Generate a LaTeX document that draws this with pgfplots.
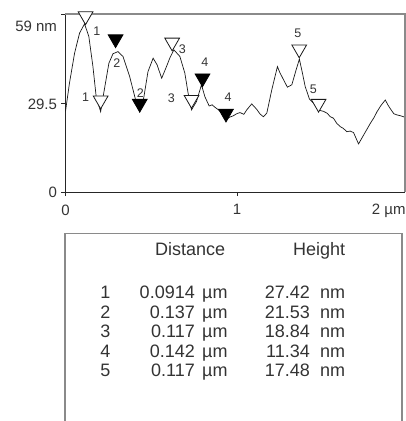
\documentclass[border=0pt]{standalone}
\usepackage{fontspec}
\setmainfont{Liberation Sans}
\usepackage{pgfplots}
\pgfplotsset{compat=1.18}
\definecolor{txt}{HTML}{333333}
\definecolor{frame}{HTML}{8A8A8A}
\begin{document}
\begin{tikzpicture}[x=1pt,y=1pt]
\path[use as bounding box] (0,0) rectangle (406,-421);
\begin{axis}[
  at={(65.5pt,-192pt)}, anchor=south west,
  scale only axis, width=339.5pt, height=178pt,
  xmin=0, xmax=1.98, ymin=0, ymax=59.6,
  axis x line*=bottom, axis y line*=left,
  axis line style={-, line width=1pt, black!85},
  xtick={0,1}, xticklabels={0,1},
  ytick={0,29.5}, yticklabels={0,29.5},
  extra y ticks={59.6}, extra y tick labels={59 nm},
  extra y tick style={yticklabel style={yshift=-12pt}},
  tick align=outside, major tick length=4pt,
  tick style={black!85, line width=0.8pt},
  ticklabel style={font=\fontsize{15}{15}\selectfont, text=txt},
  xticklabel style={yshift=-5pt},
  yticklabel style={xshift=-1pt},
  clip=false,
]
\addplot[black!90, line width=0.7pt] coordinates {
(0,27.0) (0.023,36.4) (0.053,46.5) (0.082,53.2) (0.111,56.3) (0.136,52.1)
(0.160,42.0) (0.179,31.9) (0.205,26.9) (0.228,34.8) (0.253,43.1) (0.277,46.3)
(0.306,47.0) (0.335,45.4) (0.374,38.7) (0.409,30.8) (0.433,26.9) (0.456,31.4)
(0.481,40.3) (0.511,44.8) (0.534,42.6) (0.561,38.1) (0.589,42.0) (0.608,44.8)
(0.632,47.6) (0.667,45.4) (0.696,39.8) (0.715,33.1) (0.735,27.5) (0.764,30.3)
(0.793,35.9) (0.813,31.9) (0.838,28.8) (0.855,29.2) (0.871,28.4) (0.890,27.6) (0.905,26.9)
(0.936,24.1) (0.955,25.0) (0.978,25.5) (0.998,26.2) (1.018,26.6) (1.040,26.0) (1.057,27.5)
(1.086,29.5) (1.115,27.7) (1.135,26.1) (1.154,25.2) (1.174,26.4) (1.203,34.2) (1.236,42.0)
(1.250,40.0) (1.267,38.1) (1.294,35.1) (1.320,35.9) (1.345,40.9) (1.364,44.5)
(1.380,40.3) (1.398,35.3) (1.423,31.1) (1.456,29.2) (1.485,27.3) (1.505,27.0) (1.525,26.4)
(1.545,25.2) (1.563,24.7) (1.582,23.0) (1.602,21.9) (1.620,21.3) (1.641,20.2) (1.660,20.4) (1.680,19.9)
(1.709,16.1) (1.739,19.1) (1.758,21.0) (1.778,23.0) (1.800,25.0) (1.817,26.9) (1.840,29.0) (1.865,30.8)
(1.882,29.0) (1.899,27.5) (1.915,26.2) (1.934,25.8) (1.955,25.5) (1.982,25.0)
};
% open cursor markers
\addplot[only marks, mark=triangle*, mark size=8.5pt,
  mark options={rotate=180, fill=white, draw=black!90, line width=0.8pt}] coordinates {
(0.117,58.9) (0.205,30.7) (0.622,50.1) (0.735,30.9) (1.363,47.8) (1.476,29.6)
};
% filled cursor markers
\addplot[only marks, mark=triangle*, mark size=8.5pt,
  mark options={rotate=180, fill=black, draw=black, line width=0.8pt}] coordinates {
(0.292,51.2) (0.433,29.6) (0.799,38.1) (0.936,26.3)
};
\begin{scope}[every node/.style={font=\fontsize{12.5}{12.5}\selectfont, text=txt, inner sep=0pt}]
\node at (axis cs:0.183,53.7) {1};
\node at (axis cs:0.117,31.9) {1};
\node at (axis cs:0.300,43.1) {2};
\node at (axis cs:0.437,33.1) {2};
\node at (axis cs:0.682,47.8) {3};
\node at (axis cs:0.618,31.4) {3};
\node at (axis cs:0.813,43.3) {4};
\node at (axis cs:0.949,31.7) {4};
\node at (axis cs:1.355,53.2) {5};
\node at (axis cs:1.446,34.4) {5};
\end{scope}
\draw[frame, line width=1.3pt] (rel axis cs:0,1) -- (rel axis cs:1,1) -- (rel axis cs:1,0);
\node[anchor=north west, inner sep=0pt, font=\fontsize{15}{15}\selectfont, text=txt]
  at (axis cs:1.786,0) [yshift=-12pt] {2 µm};
\end{axis}
% table box
\draw[frame, line width=1.4pt] (65,-425) -- (65,-233.5) -- (402,-233.5) -- (402,-425);
\begin{scope}[every node/.style={font=\fontsize{18}{18}\selectfont, text=txt, inner sep=0pt}]
\node[anchor=base west] at (155,-255) {Distance};
\node[anchor=base west] at (293,-255) {Height};
\foreach \i/\d/\h [count=\k from 0] in {1/0.0914/27.42, 2/0.137/21.53, 3/0.117/18.84, 4/0.142/11.34, 5/0.117/17.48} {
  \node[anchor=base east] at (110.5,-298.5-19.5*\k) {\i};
  \node[anchor=base east] at (195,-298.5-19.5*\k) {\d};
  \node[anchor=base west] at (202,-298.5-19.5*\k) {µm};
  \node[anchor=base east] at (310,-298.5-19.5*\k) {\h};
  \node[anchor=base west] at (320,-298.5-19.5*\k) {nm};
}
\end{scope}
\end{tikzpicture}
\end{document}
